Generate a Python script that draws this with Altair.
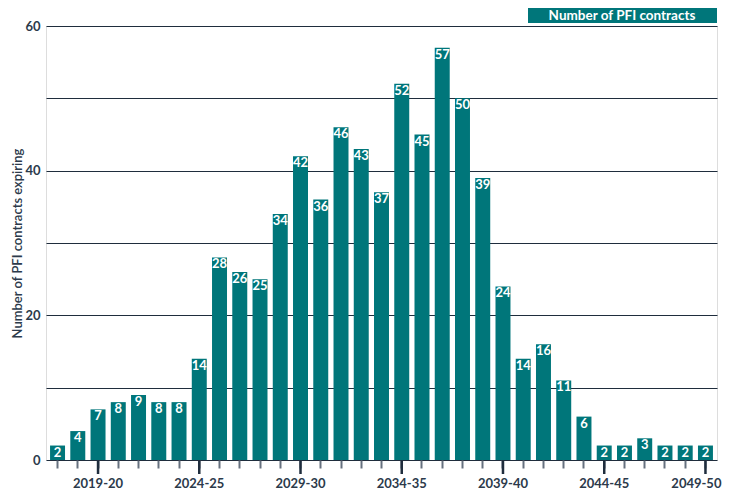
import altair as alt
import pandas as pd

years = ["2017-18", "2018-19", "2019-20", "2020-21", "2021-22", "2022-23", "2023-24",
         "2024-25", "2025-26", "2026-27", "2027-28", "2028-29", "2029-30", "2030-31",
         "2031-32", "2032-33", "2033-34", "2034-35", "2035-36", "2036-37", "2037-38",
         "2038-39", "2039-40", "2040-41", "2041-42", "2042-43", "2043-44", "2044-45",
         "2045-46", "2046-47", "2047-48", "2048-49", "2049-50"]
counts = [2, 4, 7, 8, 9, 8, 8, 14, 28, 26, 25, 34, 42, 36, 46, 43, 37, 52, 45, 57,
          50, 39, 24, 14, 16, 11, 6, 2, 2, 3, 2, 2, 2]
major_labels = ["2019-20", "2024-25", "2029-30", "2034-35", "2039-40", "2044-45", "2049-50"]
y_ticks = [0, 10, 20, 30, 40, 50, 60]
legend_label = ["Number of PFI contracts"]
y_title = "Number of PFI contracts expiring"

TEAL = "#00767a"
DARK = "#1f2d3d"
LABEL = "#2c3a4b"
FONT = "Lato"
W, H = 671, 434

df = pd.DataFrame({"year": years, "count": counts})

x_enc = alt.X(
    "year:N", sort=years, title=None,
    scale=alt.Scale(paddingInner=0.26, paddingOuter=0.2),
    axis=alt.Axis(domain=False, tickSize=8, tickWidth=2, tickColor="#66717f",
                  labels=False),
)
y_enc = alt.Y(
    "count:Q", title=y_title,
    scale=alt.Scale(domain=[0, 60], nice=False),
    axis=alt.Axis(
        values=y_ticks, domain=False, ticks=False, grid=True,
        gridColor=DARK, gridWidth=1.2, gridOpacity=1,
        labelExpr="datum.value % 20 == 0 ? datum.label : ''",
        labelPadding=6, labelFont=FONT, labelFontSize=13, labelFontWeight="bold",
        labelColor=LABEL, titleFont=FONT, titleFontSize=13,
        titleFontWeight=600, titleColor=LABEL, titlePadding=0,
    ),
)

base = alt.Chart(df)
x_plain = alt.X("year:N", sort=years)
bars = base.mark_bar(color=TEAL).encode(x=x_enc, y=y_enc)
labels = base.mark_text(
    baseline="top", align="center", dy=1, color="white",
    font=FONT, fontSize=13, fontWeight="bold",
).encode(x=x_plain, y=alt.Y("count:Q"), text="count:Q")
major_ticks = base.mark_rule(color=DARK, strokeWidth=2.5).encode(
    x=x_plain, y=alt.value(H), y2=alt.value(H + 14),
).transform_filter(alt.FieldOneOfPredicate(field="year", oneOf=major_labels))

x_label_style = dict(color=LABEL, font=FONT, fontSize=13, fontWeight="bold",
                     baseline="middle")
x_labels = base.mark_text(align="center", **x_label_style).encode(
    x=x_plain, y=alt.value(H + 24), text="year:N",
).transform_filter(alt.FieldOneOfPredicate(field="year", oneOf=major_labels[:-1]))
x_label_last = base.mark_text(align="right", dx=16, **x_label_style).encode(
    x=x_plain, y=alt.value(H + 24), text="year:N",
).transform_filter(alt.FieldEqualPredicate(field="year", equal=major_labels[-1]))

leg_df = pd.DataFrame({"label": legend_label})
leg_box = alt.Chart(leg_df).mark_rect(color=TEAL).encode(
    x=alt.value(482), x2=alt.value(671), y=alt.value(-18), y2=alt.value(-3)
)
leg_text = alt.Chart(leg_df).mark_text(
    color="white", font=FONT, fontSize=13.5, fontWeight="bold",
    align="center", baseline="middle",
).encode(x=alt.value(576), y=alt.value(-10), text="label:N")

chart = (
    alt.layer(bars, labels, major_ticks, x_labels, x_label_last, leg_box, leg_text)
    .properties(width=W, height=H, autosize=alt.AutoSizeParams(type="none"),
                padding={"left": 38, "top": 18, "right": 6, "bottom": 34})
    .configure_view(stroke=None)
    .configure(background="white")
)

chart.save("out.html", embed_options={"renderer": "svg", "actions": False})
